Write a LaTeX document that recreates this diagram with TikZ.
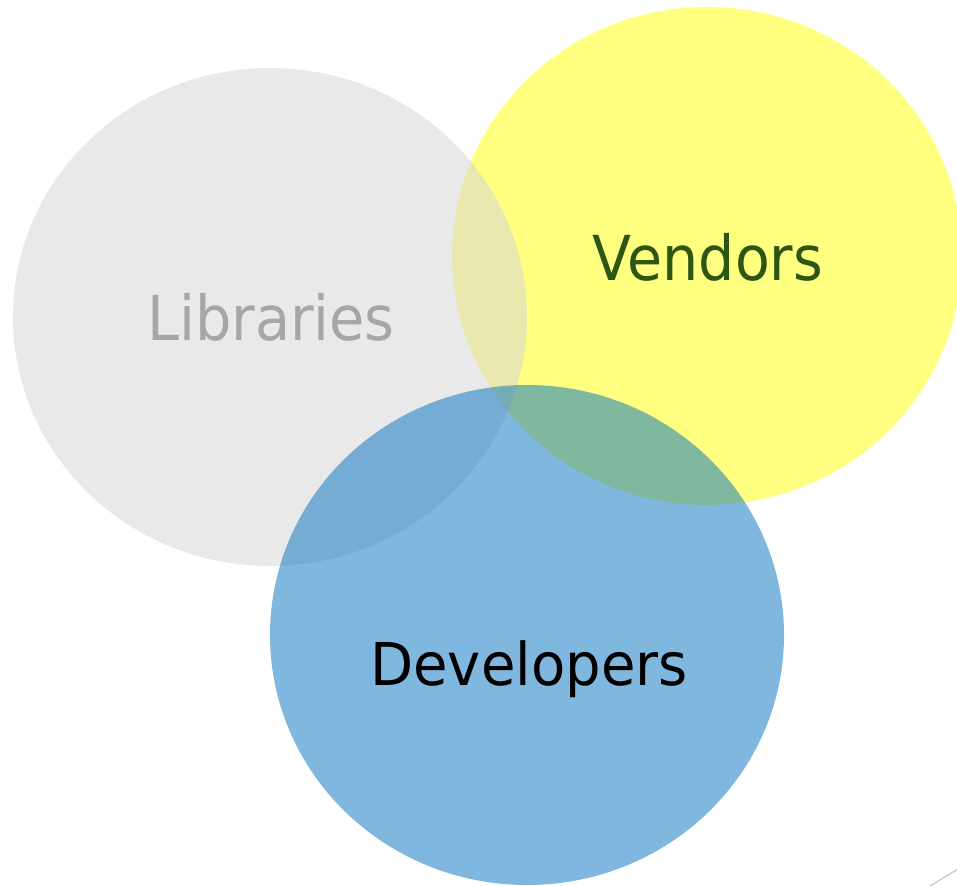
\documentclass[tikz,border=0pt]{standalone}
\usepackage{graphicx}
\usepackage{fontspec}
\setmainfont{DejaVu Sans}
\definecolor{vyellow}{RGB}{255,255,128}
\definecolor{lgray}{RGB}{215,215,215}
\definecolor{dblue}{RGB}{2,112,190}
\definecolor{libtext}{RGB}{166,166,166}
\definecolor{vendtext}{RGB}{45,85,20}
\definecolor{edgeline}{RGB}{205,205,205}
\tikzset{
  label text/.style={anchor=base, inner sep=0pt, font=\fontsize{62}{70}\selectfont},
}
\newcommand{\squeeze}[2]{\scalebox{#1}[1]{#2}}
\begin{document}
\begin{tikzpicture}[x=1pt, y=-1pt]
  \useasboundingbox (0,0) rectangle (957,885);
  \clip (0,0) rectangle (957,885);
  % Vendors (yellow), opaque
  \fill[vyellow] (707,256) ellipse [x radius=255, y radius=249];
  % Libraries (gray), semi-transparent
  \fill[lgray, fill opacity=0.55] (270,317) ellipse [x radius=257, y radius=249];
  % Developers (blue), semi-transparent
  \fill[dblue, fill opacity=0.5] (527,635) ellipse [x radius=257, y radius=250];
  % labels
  \node[label text, text=libtext] (lib) at (271,340) {\squeeze{0.925}{Libraries}};
  \node[label text, text=vendtext] (vend) at (708,280) {\squeeze{0.92}{Vendors}};
  \node[label text, text=black, font=\fontsize{59}{66}\selectfont] (dev) at (529,685) {\squeeze{0.95}{Developers}};
  % corner line fragment
  \coordinate (c1) at (930,886);
  \coordinate (c2) at (958,869);
  \draw[edgeline, line width=1.5pt] (c1) -- (c2);
\end{tikzpicture}
\end{document}
